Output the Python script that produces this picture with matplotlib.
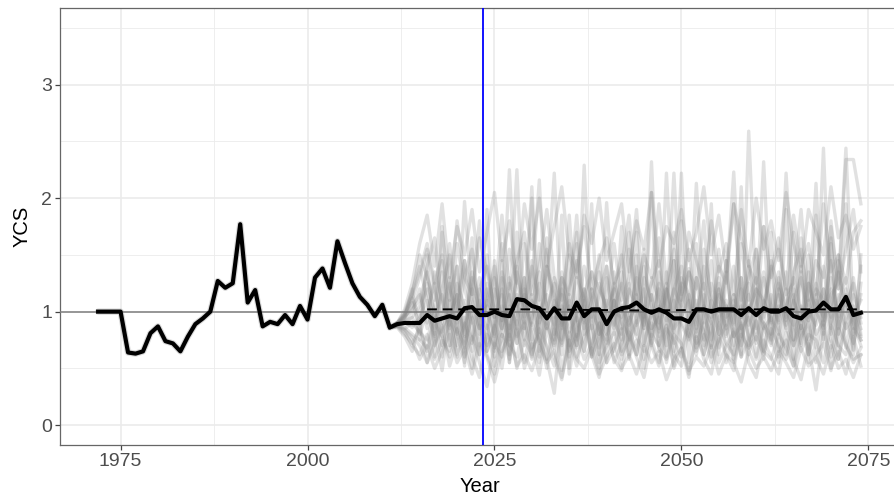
import numpy as np
from matplotlib import pyplot as plt
from matplotlib.ticker import MultipleLocator

plt.rcParams['font.family'] = ['Liberation Sans', 'DejaVu Sans']

# estimated median YCS, historical period
hist_years = list(range(1972, 2012))
hist_ycs = [1.00, 1.00, 1.00, 1.00, 0.64, 0.63, 0.65, 0.81, 0.87, 0.74,
            0.72, 0.65, 0.78, 0.89, 0.94, 1.00, 1.27, 1.21, 1.25, 1.77,
            1.08, 1.19, 0.87, 0.91, 0.89, 0.97, 0.89, 1.05, 0.93, 1.30,
            1.38, 1.21, 1.62, 1.43, 1.25, 1.13, 1.06, 0.96, 1.06, 0.86]

# median YCS, projection period
proj_years = list(range(2012, 2075))
proj_ycs = [0.89, 0.90, 0.90, 0.90, 0.97, 0.92, 0.94, 0.96, 0.94, 1.03,
            1.04, 0.97, 0.97, 1.00, 0.97, 0.96, 1.11, 1.10, 1.05, 1.03,
            0.94, 1.03, 0.94, 0.94, 1.08, 0.96, 1.02, 1.02, 0.89, 1.00,
            1.03, 1.04, 1.08, 1.02, 0.99, 1.02, 0.99, 0.94, 0.94, 0.91,
            1.02, 1.02, 1.00, 1.02, 1.02, 1.02, 0.97, 1.03, 0.97, 1.03,
            1.00, 1.00, 1.03, 0.96, 0.94, 1.00, 1.01, 1.08, 1.02, 1.02,
            1.13, 0.97, 0.99]

mean_years = [2016, 2030, 2045, 2060, 2074]
mean_ycs = [1.02, 1.02, 1.01, 1.02, 1.02]

# individual simulated trajectories (2012-2074)
sims = [
    [0.89, 0.92, 0.95, 1.05, 1.20, 0.85, 1.35, 0.70, 1.10, 1.45,
     0.80, 0.62, 1.25, 0.95, 1.60, 0.75, 1.05, 1.30, 0.58, 0.90,
     1.40, 1.10, 0.70, 1.85, 0.95, 0.65, 1.20, 1.00, 0.55, 1.35,
     0.85, 1.15, 1.70, 0.72, 0.98, 1.25, 0.60, 1.45, 0.90, 0.78,
     1.30, 1.05, 0.68, 1.55, 0.88, 1.10, 0.62, 1.40, 0.95, 1.75,
     0.70, 1.00, 1.20, 0.58, 1.35, 0.92, 1.15, 0.75, 1.60, 0.85,
     1.10, 0.66, 1.25],
    [0.88, 0.86, 0.80, 0.75, 0.68, 0.95, 0.60, 1.10, 0.82, 0.55,
     1.20, 0.90, 0.70, 1.45, 0.78, 1.05, 2.25, 0.85, 1.15, 0.65,
     0.95, 0.72, 1.30, 0.60, 1.00, 1.20, 0.75, 0.50, 1.10, 0.88,
     1.35, 0.62, 0.95, 1.20, 0.70, 1.05, 0.55, 0.90, 1.30, 1.15,
     0.65, 0.98, 1.45, 0.80, 1.10, 0.58, 0.95, 1.25, 0.72, 1.05,
     1.40, 0.85, 0.62, 1.10, 0.92, 1.50, 0.68, 1.00, 1.20, 0.58,
     0.95, 1.30, 0.80],
    [0.90, 0.98, 1.10, 1.30, 1.55, 1.20, 0.90, 1.60, 1.05, 0.80,
     1.35, 1.10, 0.65, 0.88, 1.15, 0.70, 1.40, 0.95, 1.25, 2.16,
     0.85, 1.05, 0.62, 1.20, 1.45, 0.80, 1.00, 0.68, 1.30, 0.92,
     0.75, 1.55, 1.10, 0.85, 2.32, 0.90, 1.20, 0.65, 1.00, 1.38,
     0.82, 1.15, 0.70, 1.25, 0.95, 1.05, 0.60, 2.59, 1.10, 0.85,
     0.72, 1.30, 1.00, 0.88, 1.65, 0.75, 1.10, 0.95, 1.45, 0.80,
     1.20, 0.90, 0.70],
    [0.87, 0.84, 0.78, 0.70, 0.55, 0.72, 0.88, 0.52, 0.75, 0.95,
     0.60, 0.42, 0.80, 0.70, 1.05, 0.62, 0.85, 0.55, 0.90, 0.75,
     0.58, 0.95, 0.48, 0.82, 0.68, 1.10, 0.60, 0.78, 0.92, 0.55,
     0.72, 0.88, 0.62, 1.00, 0.70, 0.52, 0.85, 0.75, 0.60, 0.98,
     0.68, 0.80, 0.55, 0.90, 0.72, 0.62, 1.05, 0.78, 0.58, 0.85,
     0.95, 0.65, 0.75, 0.52, 0.88, 0.70, 0.31, 0.82, 0.60, 0.92,
     0.72, 0.55, 0.68],
    [0.89, 0.95, 1.05, 1.15, 0.90, 1.35, 1.10, 0.85, 1.60, 1.20,
     0.95, 0.70, 1.10, 1.40, 0.85, 1.25, 0.72, 1.05, 2.10, 0.90,
     1.15, 0.80, 1.35, 1.00, 0.70, 1.20, 0.95, 1.50, 0.82, 1.10,
     0.65, 1.25, 0.90, 1.40, 1.05, 0.78, 1.20, 0.95, 2.22, 0.85,
     1.30, 0.75, 1.10, 0.92, 1.45, 0.70, 1.20, 0.88, 1.05, 1.35,
     0.80, 1.15, 0.95, 1.70, 0.85, 1.25, 1.00, 1.40, 0.90, 1.10,
     1.30, 0.85, 1.15],
    [0.88, 0.90, 0.88, 0.92, 1.00, 0.78, 0.95, 1.25, 0.70, 0.88,
     1.05, 1.30, 0.90, 0.60, 1.00, 0.85, 1.15, 0.70, 0.95, 1.25,
     0.58, 0.28, 0.90, 1.10, 0.75, 2.29, 0.88, 0.62, 1.05, 1.20,
     0.80, 0.95, 1.30, 0.70, 1.00, 0.85, 1.15, 1.45, 0.68, 0.90,
     1.10, 0.62, 0.95, 1.20, 0.78, 1.00, 1.30, 0.70, 0.92, 0.58,
     1.15, 0.90, 1.35, 0.75, 1.05, 0.62, 0.95, 1.20, 0.85, 1.50,
     0.68, 1.00, 0.78],
    [0.90, 0.96, 1.12, 0.95, 1.40, 1.65, 1.00, 1.30, 0.82, 1.97,
     1.10, 0.85, 1.50, 0.95, 1.20, 0.78, 1.35, 1.05, 0.88, 1.60,
     1.00, 1.25, 0.75, 1.15, 0.92, 1.40, 1.10, 0.80, 1.96, 1.05,
     1.25, 0.90, 1.10, 1.55, 0.85, 1.20, 1.00, 2.22, 0.95, 1.15,
     0.88, 1.40, 1.05, 0.80, 1.25, 2.23, 0.95, 1.15, 0.85, 1.30,
     1.05, 0.92, 2.22, 1.10, 0.85, 1.35, 1.00, 1.20, 0.95, 1.45,
     1.05, 1.25, 0.90],
    [0.87, 0.82, 0.70, 0.62, 0.80, 0.58, 0.75, 0.65, 0.92, 0.60,
     0.78, 0.55, 0.34, 0.72, 0.60, 0.88, 0.50, 0.75, 0.62, 0.85,
     0.70, 0.52, 0.95, 0.65, 0.80, 0.58, 0.72, 0.90, 0.55, 0.68,
     0.85, 0.60, 0.75, 0.50, 0.90, 0.68, 0.58, 0.80, 0.72, 0.45,
     0.78, 0.62, 0.88, 0.55, 0.70, 0.82, 0.60, 0.75, 0.92, 0.65,
     0.58, 0.80, 0.68, 0.52, 0.78, 0.90, 0.62, 0.72, 0.48, 0.85,
     0.70, 0.58, 0.62],
    [0.89, 0.93, 1.00, 1.20, 0.85, 1.05, 1.45, 0.95, 1.15, 0.78,
     1.30, 1.00, 0.85, 1.20, 0.92, 2.25, 1.00, 0.75, 1.10, 0.95,
     1.20, 2.22, 0.88, 1.05, 0.70, 1.15, 1.35, 0.95, 0.80, 1.25,
     1.05, 0.75, 1.40, 0.95, 1.15, 0.82, 2.22, 1.00, 1.25, 0.88,
     2.13, 1.05, 0.90, 1.30, 0.80, 1.15, 0.95, 1.45, 1.00, 2.32,
     0.92, 1.20, 0.85, 1.10, 1.30, 0.95, 2.13, 0.88, 1.15, 1.25,
     2.44, 0.95, 1.10],
    [0.88, 0.85, 0.90, 0.82, 0.75, 1.00, 0.70, 0.92, 0.80, 1.10,
     0.72, 0.95, 1.05, 0.68, 0.85, 1.15, 0.78, 0.90, 0.60, 1.00,
     0.88, 0.70, 1.05, 0.82, 0.95, 0.65, 1.00, 0.85, 0.72, 1.10,
     0.90, 0.78, 0.62, 1.00, 0.85, 0.95, 0.70, 1.10, 0.88, 0.75,
     1.00, 0.82, 0.68, 0.95, 1.05, 0.78, 0.88, 0.62, 1.00, 0.90,
     0.75, 1.05, 0.85, 0.70, 0.95, 1.10, 0.80, 0.92, 0.68, 1.00,
     0.85, 0.95, 0.75],
    [0.90, 1.00, 1.18, 1.40, 1.10, 0.80, 1.20, 1.50, 0.90, 1.30,
     1.55, 0.95, 1.20, 0.78, 1.35, 1.10, 0.85, 1.60, 1.05, 0.82,
     1.40, 1.15, 0.90, 1.25, 1.70, 0.85, 1.10, 1.35, 0.95, 1.20,
     1.50, 1.00, 0.80, 1.30, 1.10, 1.65, 0.90, 1.20, 1.40, 1.05,
     0.85, 1.55, 1.15, 1.00, 1.35, 0.90, 1.60, 1.10, 1.30, 0.95,
     1.45, 1.20, 0.88, 1.35, 1.55, 1.05, 1.25, 0.92, 1.80, 1.20,
     2.34, 2.34, 1.95],
    [0.89, 0.91, 0.86, 0.95, 1.10, 0.70, 0.85, 1.00, 0.60, 0.90,
     0.75, 1.10, 0.65, 0.88, 0.50, 0.95, 0.72, 1.20, 0.80, 0.55,
     0.92, 0.68, 1.15, 0.45, 0.85, 1.00, 0.62, 0.90, 0.75, 1.10,
     0.58, 0.95, 0.78, 0.65, 1.15, 0.70, 0.88, 0.52, 1.00, 0.80,
     0.62, 0.98, 0.75, 1.20, 0.55, 0.85, 0.70, 1.05, 0.60, 0.90,
     0.78, 0.55, 1.00, 0.70, 0.88, 0.62, 0.95, 2.44, 0.75, 0.58,
     0.90, 0.72, 1.00],
    [0.88, 0.94, 1.08, 0.88, 1.25, 1.00, 0.78, 1.15, 1.40, 0.85,
     0.65, 1.20, 1.00, 0.80, 1.30, 0.55, 1.05, 0.90, 1.45, 0.72,
     1.00, 1.30, 0.85, 1.50, 0.78, 1.05, 0.60, 1.25, 1.00, 0.85,
     1.20, 1.70, 0.88, 1.05, 0.72, 1.35, 1.00, 0.82, 1.15, 1.55,
     0.95, 0.70, 1.25, 1.05, 0.85, 1.40, 0.78, 1.00, 1.20, 0.65,
     1.05, 1.35, 0.92, 1.15, 0.70, 1.25, 1.00, 0.85, 1.30, 0.95,
     1.15, 0.80, 1.40],
    [0.87, 0.80, 0.72, 0.85, 0.65, 0.90, 0.78, 0.60, 0.85, 0.70,
     0.95, 0.62, 0.88, 0.52, 0.80, 0.70, 0.60, 0.92, 0.68, 0.80,
     0.50, 0.85, 0.72, 0.95, 0.60, 0.78, 0.88, 0.55, 0.70, 0.82,
     0.62, 0.75, 0.92, 0.58, 0.80, 0.70, 0.95, 0.62, 0.52, 0.85,
     0.72, 0.90, 0.60, 0.75, 0.88, 0.55, 0.80, 0.68, 0.78, 0.62,
     0.85, 0.70, 0.58, 0.92, 0.65, 0.80, 0.75, 0.55, 0.88, 0.70,
     0.62, 0.85, 0.75],
    [0.90, 0.97, 1.15, 1.50, 1.30, 1.10, 1.70, 1.20, 1.00, 1.45,
     1.15, 1.80, 1.05, 1.30, 0.92, 1.55, 1.25, 1.05, 1.40, 1.10,
     1.65, 0.95, 1.30, 1.15, 1.85, 1.00, 1.35, 1.20, 1.05, 1.60,
     1.10, 1.30, 1.90, 1.05, 1.25, 1.45, 1.00, 1.70, 1.15, 1.35,
     1.20, 1.80, 1.00, 1.40, 1.25, 1.95, 1.10, 1.30, 1.55, 1.05,
     1.35, 1.65, 1.15, 1.25, 1.90, 1.10, 1.45, 1.30, 1.75, 1.20,
     1.55, 1.90, 1.35],
    [0.89, 0.90, 0.95, 0.80, 1.00, 1.25, 0.82, 0.95, 1.15, 0.68,
     1.00, 0.85, 1.10, 0.95, 0.65, 1.05, 0.88, 1.30, 0.75, 1.00,
     0.85, 1.10, 0.95, 0.70, 1.05, 0.92, 1.20, 0.80, 1.00, 0.65,
     1.05, 0.88, 1.15, 0.95, 0.78, 1.00, 1.25, 0.85, 0.95, 1.10,
     0.78, 1.05, 0.90, 0.68, 1.00, 1.15, 0.85, 0.95, 0.75, 1.10,
     0.95, 0.80, 1.05, 1.20, 0.72, 1.00, 0.88, 1.05, 0.80, 1.15,
     0.90, 1.05, 0.85],
    [0.88, 0.84, 0.75, 0.58, 0.70, 0.50, 0.65, 0.80, 0.55, 0.68,
     0.45, 0.72, 0.60, 0.38, 0.65, 0.80, 0.52, 0.62, 0.48, 0.70,
     0.55, 0.66, 0.42, 0.75, 0.58, 0.50, 0.68, 0.45, 0.60, 0.72,
     0.50, 0.62, 0.45, 0.70, 0.55, 0.65, 0.40, 0.58, 0.68, 0.48,
     0.60, 0.52, 0.70, 0.45, 0.62, 0.55, 0.38, 0.66, 0.50, 0.60,
     0.48, 0.65, 0.55, 0.42, 0.68, 0.52, 0.60, 0.45, 0.70, 0.50,
     0.58, 0.42, 0.62],
    [0.89, 0.96, 1.02, 1.10, 1.35, 0.95, 1.15, 0.88, 1.25, 1.05,
     0.90, 1.20, 1.40, 1.00, 0.85, 1.30, 1.05, 1.15, 0.90, 1.35,
     1.05, 0.88, 1.20, 1.00, 1.30, 1.12, 0.85, 1.15, 1.40, 1.00,
     0.95, 1.20, 1.05, 0.88, 1.30, 1.10, 0.92, 1.20, 1.05, 1.35,
     1.00, 1.25, 0.95, 1.15, 1.05, 0.88, 1.30, 1.00, 1.20, 1.10,
     0.90, 1.25, 1.05, 1.30, 1.00, 0.92, 1.20, 1.10, 1.05, 1.35,
     1.00, 1.15, 0.95],
    [0.90, 1.02, 1.25, 1.60, 1.85, 1.40, 1.95, 1.30, 1.75, 1.50,
     1.90, 1.35, 1.70, 2.05, 1.45, 1.80, 1.25, 1.95, 1.55, 2.00,
     1.40, 1.75, 2.10, 1.50, 1.30, 1.85, 1.60, 2.00, 1.45, 1.70,
     1.95, 1.35, 1.80, 1.55, 2.05, 1.40, 1.75, 1.60, 1.90, 1.45,
     1.70, 2.10, 1.50, 1.85, 1.35, 1.95, 1.65, 1.40, 2.00, 1.55,
     1.80, 1.45, 2.05, 1.60, 1.35, 1.90, 1.70, 1.50, 2.10, 1.65,
     1.85, 1.55, 1.75],
    [0.88, 0.95, 1.20, 0.75, 1.50, 0.60, 1.75, 0.70, 1.40, 0.52,
     1.65, 0.80, 1.90, 0.65, 1.45, 0.55, 1.70, 0.85, 2.00, 0.60,
     1.55, 0.75, 1.85, 0.50, 1.60, 0.90, 1.95, 0.62, 1.40, 0.80,
     1.75, 0.58, 1.50, 0.85, 2.05, 0.65, 1.35, 0.72, 1.80, 0.55,
     1.60, 0.90, 1.95, 0.62, 1.45, 0.78, 2.10, 0.68, 1.55, 0.85,
     1.70, 0.60, 1.90, 0.75, 1.40, 0.55, 1.85, 0.80, 1.65, 0.70,
     1.95, 0.62, 1.50],
    [0.89, 0.98, 1.15, 1.35, 1.60, 1.25, 1.50, 1.10, 1.80, 1.30,
     1.15, 1.65, 1.35, 1.05, 1.85, 1.20, 1.45, 1.70, 1.15, 1.40,
     1.90, 1.30, 1.10, 1.60, 1.35, 1.75, 1.20, 1.45, 1.65, 1.25,
     1.40, 1.85, 1.15, 1.50, 1.30, 1.95, 1.25, 1.55, 1.10, 1.70,
     1.45, 1.20, 1.80, 1.35, 1.60, 1.15, 1.90, 1.40, 1.25, 1.75,
     1.30, 1.55, 1.20, 1.85, 1.40, 1.60, 1.15, 1.95, 1.35, 1.50,
     1.25, 1.70, 1.80],
    [0.86, 0.78, 0.65, 0.90, 0.55, 0.82, 0.48, 0.95, 0.62, 0.78,
     0.50, 0.88, 0.62, 0.45, 0.80, 0.58, 0.92, 0.50, 0.72, 0.44,
     0.85, 0.60, 0.40, 0.75, 0.52, 0.90, 0.62, 0.42, 0.80, 0.58,
     0.48, 0.82, 0.60, 0.42, 0.75, 0.55, 0.88, 0.50, 0.68, 0.42,
     0.85, 0.58, 0.45, 0.78, 0.62, 0.48, 0.90, 0.55, 0.42, 0.75,
     0.60, 0.45, 0.82, 0.58, 0.40, 0.72, 0.55, 0.88, 0.50, 0.65,
     0.45, 0.78, 0.52],
]

current_year = 2023.5

fig = plt.figure(figsize=(8.95, 5.0), dpi=100)
ax = fig.add_axes([60 / 895, 55 / 500, 839 / 895, 437 / 500])

# historical uncertainty halo
ax.plot(hist_years + proj_years[:1], hist_ycs + proj_ycs[:1],
        color='#8a8a8a', alpha=0.3, lw=4.6, solid_capstyle='round', zorder=2)

for s in sims:
    ax.plot([hist_years[-1]] + proj_years, [hist_ycs[-1]] + s,
            color='#8a8a8a', alpha=0.25, lw=2.4, zorder=2)

ax.axhline(1.0, color='#7f7f7f', lw=1.1, zorder=3)
ax.axvline(current_year, color='#0000ff', lw=1.3, zorder=4)

ax.plot(mean_years, mean_ycs, color='black', lw=1.4, ls=(0, (5, 3)), zorder=4)
ax.plot(hist_years + proj_years, hist_ycs + proj_ycs,
        color='black', lw=3.0, zorder=5)

ax.set_xlim(1966.9, 2079.1)
ax.set_ylim(-0.175, 3.675)
ax.xaxis.set_major_locator(MultipleLocator(25))
ax.xaxis.set_minor_locator(MultipleLocator(12.5))
ax.yaxis.set_major_locator(MultipleLocator(1))
ax.yaxis.set_minor_locator(MultipleLocator(0.5))
ax.set_xticks([1975, 2000, 2025, 2050, 2075])

ax.grid(which='major', color='#ebebeb', lw=1.2, zorder=0)
ax.grid(which='minor', color='#ebebeb', lw=0.6, zorder=0)
ax.set_axisbelow(True)

for sp in ax.spines.values():
    sp.set_color('#666666')
    sp.set_linewidth(0.9)
ax.tick_params(which='major', length=3.8, width=0.9, color='#444444',
               labelsize=14, labelcolor='#4d4d4d', pad=2)
ax.tick_params(which='minor', length=0)

ax.set_xlabel('Year', fontsize=14.5, color='black', labelpad=5)
ax.set_ylabel('YCS', fontsize=14.5, color='black', labelpad=7)

fig.savefig('out.png', dpi=100)
